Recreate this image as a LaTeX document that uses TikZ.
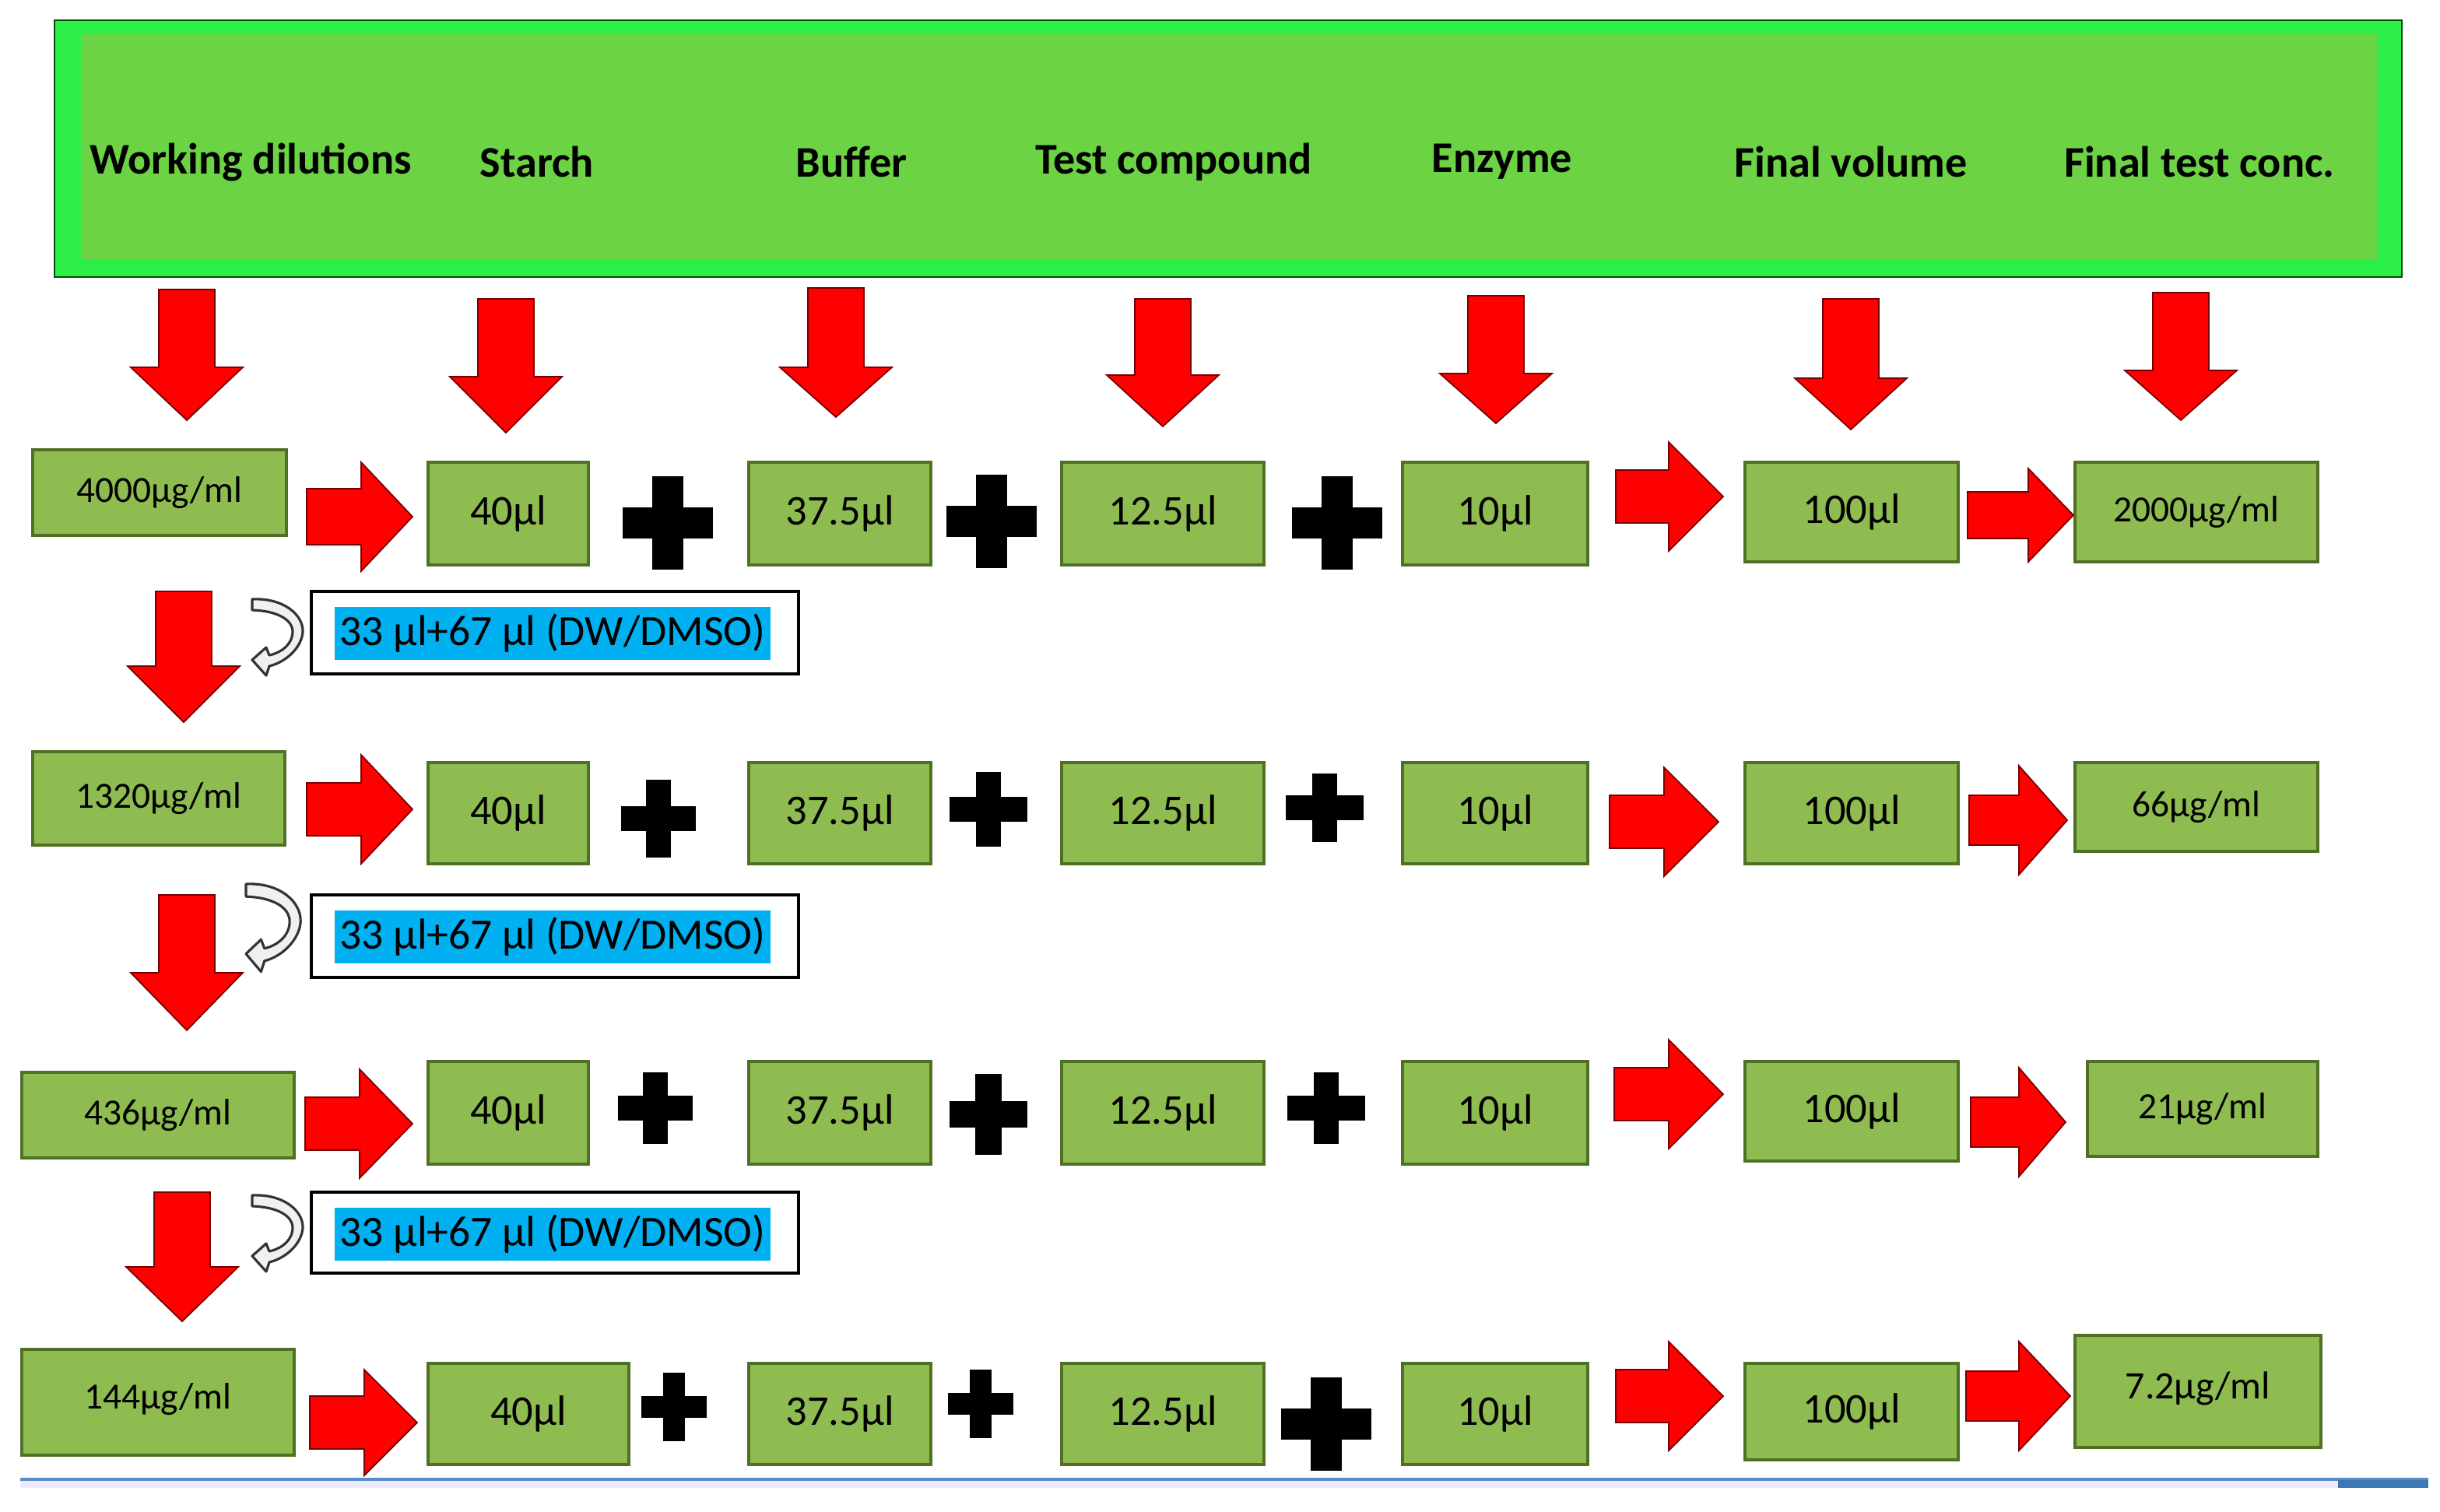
\documentclass[tikz,border=0pt]{standalone}
\usepackage{fontspec}
\setmainfont{Carlito}
\definecolor{hdrout}{RGB}{44,238,72}
\definecolor{hdrin}{RGB}{108,211,68}
\definecolor{boxfill}{RGB}{143,188,80}
\definecolor{boxline}{RGB}{80,112,38}
\definecolor{arrred}{RGB}{255,0,0}
\definecolor{arrline}{RGB}{120,0,0}
\definecolor{hlblue}{RGB}{0,176,240}
\tikzset{
  gbox/.style={draw=boxline, fill=boxfill, line width=1.1pt, inner sep=0pt, align=center},
  volt/.style={font=\fontsize{15.5}{18}\selectfont},
  conct/.style={font=\fontsize{13.5}{16}\selectfont},
  hdrtext/.style={font=\bfseries\fontsize{16}{19}\selectfont},
  redarr/.style={fill=arrred, draw=arrline, line width=0.5pt, line join=miter},
  plussign/.style={fill=black, draw=none},
  curvarr/.style={fill=gray!12, draw=black!80, line width=0.9pt, line join=round},
  dilbox/.style={draw=black, fill=white, line width=1.4pt, inner sep=0pt}
}
\newcommand\GBox[7]{\node[gbox, #7, minimum width={(#4-#2)*0.02cm}, minimum height={(#5-#3)*0.02cm}] (#1) at ({(#2+#4)/2},{(#3+#5)/2}) {\raisebox{1.5pt}{#6}};}
\newcommand\DArr[4]{\filldraw[redarr] ({#1-18},#2) -- ({#1+18},#2) -- ({#1+18},#4) -- ({#1+36},#4) -- (#1,#3) -- ({#1-36},#4) -- ({#1-18},#4) -- cycle;}
\newcommand\RArr[6]{\filldraw[redarr] (#1,{#3-#5}) -- (#4,{#3-#5}) -- (#4,{#3-#6}) -- (#2,#3) -- (#4,{#3+#6}) -- (#4,{#3+#5}) -- (#1,{#3+#5}) -- cycle;}
\newcommand\PlusSign[5]{\fill[plussign] ({#1-#3},{#2-#5}) rectangle ({#1+#3},{#2+#5}); \fill[plussign] ({#1-#5},{#2-#4}) rectangle ({#1+#5},{#2+#4});}
\newcommand\CurvArr{\filldraw[curvarr] (0,0) .. controls (20,-1) and (33,10) .. (32.5,21) .. controls (32,30) and (23,40) .. (11,43) -- (9,49) -- (0,39) -- (9,31) -- (11,36) .. controls (20,34) and (26,28) .. (26,21) .. controls (26,13) and (16,7.5) .. (0,7) -- cycle;}
\begin{document}
\begin{tikzpicture}[x=0.02cm, y=-0.02cm]
\useasboundingbox (0,0) rectangle (1567.5,971);
\fill[white] (0,0) rectangle (1567.5,971);

% header
\filldraw[fill=hdrout, draw=black!70!green, line width=0.8pt] (35,13) rectangle (1543,178);
\node[fill=hdrin, draw=none, minimum width={1475*0.02cm}, minimum height={145*0.02cm}, inner sep=0pt] (hdr) at (789.5,94.5) {};
\node[hdrtext] (h1) at (161,104) {Working dilutions};
\node[hdrtext] (h2) at (345,104) {Starch};
\node[hdrtext] (h3) at (547,104) {Buffer};
\node[hdrtext] (h4) at (754,104) {Test compound};
\node[hdrtext] (h5) at (965,104) {Enzyme};
\node[hdrtext] (h6) at (1189,104) {Final volume};
\node[hdrtext] (h7) at (1413,104) {Final test conc.};

% down arrows below header
\DArr{120}{186}{270}{236}
\DArr{325}{192}{278}{242}
\DArr{537}{185}{268}{236}
\DArr{747}{192}{274}{241}
\DArr{961}{190}{272}{240}
\DArr{1189}{192}{276}{243}
\DArr{1401}{188}{270}{238}

% row 1
\GBox{a1}{21}{289}{184}{344}{4000µg/ml}{conct}
\GBox{b1}{275}{297}{378}{363}{40µl}{volt}
\GBox{c1}{481}{297}{598}{363}{37.5µl}{volt}
\GBox{d1}{682}{297}{812}{363}{12.5µl}{volt}
\GBox{e1}{901}{297}{1020}{363}{10µl}{volt}
\GBox{f1}{1121}{297}{1258}{361}{100µl}{volt}
\GBox{g1}{1333}{297}{1489}{361}{2000µg/ml}{conct}
\RArr{197}{265}{332}{232}{18}{35}
\RArr{1038}{1107}{319}{1072}{17}{35}
\RArr{1264}{1332}{331}{1303}{15}{30}
\PlusSign{429}{336}{29}{30}{10}
\PlusSign{637}{335}{29}{30}{10}
\PlusSign{859}{336}{29}{30}{10}

% dilution 1
\DArr{118}{380}{464}{428}
\begin{scope}[shift={(162,385)}]\CurvArr\end{scope}
\node[dilbox, minimum width={313*0.02cm}, minimum height={53*0.02cm}] (k1) at (356.5,406.5) {};
\node[fill=hlblue, inner sep=0pt, minimum width={280*0.02cm}, minimum height={34*0.02cm}, font=\fontsize{15.8}{18}\selectfont] (t1) at (355,407) {33 µl+67 µl (DW/DMSO)};

% row 2
\GBox{a2}{21}{483}{183}{543}{1320µg/ml}{conct}
\GBox{b2}{275}{490}{378}{555}{40µl}{volt}
\GBox{c2}{481}{490}{598}{555}{37.5µl}{volt}
\GBox{d2}{682}{490}{812}{555}{12.5µl}{volt}
\GBox{e2}{901}{490}{1020}{555}{10µl}{volt}
\GBox{f2}{1121}{490}{1258}{555}{100µl}{volt}
\GBox{g2}{1333}{490}{1489}{547}{66µg/ml}{conct}
\RArr{197}{265}{520}{232}{17}{35}
\RArr{1034}{1104}{528}{1069}{17}{35}
\RArr{1265}{1328}{527}{1297}{16}{35}
\PlusSign{423}{526}{24}{25}{8}
\PlusSign{635}{520}{25}{24}{8}
\PlusSign{851}{519}{25}{22}{8}

% dilution 2
\DArr{120}{575}{662}{625}
\begin{scope}[shift={(158,568)}, xscale=1.08, yscale=1.15]\CurvArr\end{scope}
\node[dilbox, minimum width={313*0.02cm}, minimum height={53*0.02cm}] (k2) at (356.5,601.5) {};
\node[fill=hlblue, inner sep=0pt, minimum width={280*0.02cm}, minimum height={34*0.02cm}, font=\fontsize{15.8}{18}\selectfont] (t2) at (355,602) {33 µl+67 µl (DW/DMSO)};

% row 3
\GBox{a3}{14}{689}{189}{744}{436µg/ml}{conct}
\GBox{b3}{275}{682}{378}{748}{40µl}{volt}
\GBox{c3}{481}{682}{598}{748}{37.5µl}{volt}
\GBox{d3}{682}{682}{812}{748}{12.5µl}{volt}
\GBox{e3}{901}{682}{1020}{748}{10µl}{volt}
\GBox{f3}{1121}{682}{1258}{746}{100µl}{volt}
\GBox{g3}{1341}{682}{1489}{743}{21µg/ml}{conct}
\RArr{196}{265}{722}{231}{17}{35}
\RArr{1037}{1107}{703}{1072}{17}{35}
\RArr{1266}{1327}{721}{1297}{16}{35}
\PlusSign{421}{712}{24}{23}{8}
\PlusSign{635}{716}{25}{26}{8.5}
\PlusSign{852}{712}{25}{23}{8}

% dilution 3
\DArr{117}{766}{849}{814}
\begin{scope}[shift={(162,768)}]\CurvArr\end{scope}
\node[dilbox, minimum width={313*0.02cm}, minimum height={52*0.02cm}] (k3) at (356.5,792) {};
\node[fill=hlblue, inner sep=0pt, minimum width={280*0.02cm}, minimum height={34*0.02cm}, font=\fontsize{15.8}{18}\selectfont] (t3) at (355,793) {33 µl+67 µl (DW/DMSO)};

% row 4
\GBox{a4}{14}{867}{189}{935}{\raisebox{3pt}{144µg/ml}}{conct}
\GBox{b4}{275}{876}{404}{941}{40µl}{volt}
\GBox{c4}{481}{876}{598}{941}{37.5µl}{volt}
\GBox{d4}{682}{876}{812}{941}{12.5µl}{volt}
\GBox{e4}{901}{876}{1020}{941}{10µl}{volt}
\GBox{f4}{1121}{876}{1258}{938}{100µl}{volt}
\GBox{g4}{1333}{858}{1491}{930}{\raisebox{3pt}{7.2µg/ml}}{font=\fontsize{14.2}{17}\selectfont}
\RArr{199}{268}{914}{234}{17}{34}
\RArr{1038}{1107}{897}{1072}{17}{35}
\RArr{1263}{1330}{897}{1297}{16}{35}
\PlusSign{433}{904}{21}{22}{7}
\PlusSign{630}{902}{21}{22}{7}
\PlusSign{852}{915}{29}{30}{10}

% bottom bar
\fill[blue!8!white] (13,951) rectangle (1560,956);
\draw[color={rgb,255:red,90;green,140;blue,200}, line width=1pt] (13,950.5) -- (1560,950.5);
\fill[color={rgb,255:red,60;green,120;blue,180}] (1502,951) rectangle (1560,956);
\end{tikzpicture}
\end{document}
